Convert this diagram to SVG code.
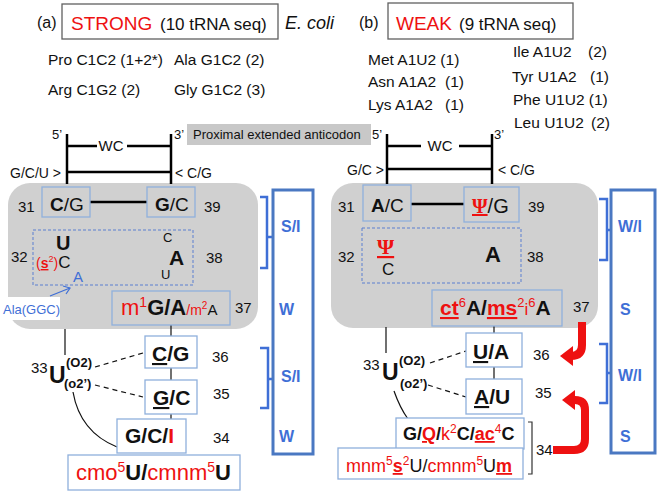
<svg xmlns="http://www.w3.org/2000/svg" width="661" height="494" viewBox="0 0 661 494">
<style>
text{font-family:"Liberation Sans",Arial,sans-serif;fill:#111}
.b{font-weight:bold}
.r{fill:#ee1111}
.bl{fill:#3f6fd6}
.u{text-decoration:underline}
.psi{font-family:"Liberation Serif","Times New Roman",serif;font-weight:bold;fill:#ee1111;text-decoration:underline}
.nb{fill:none;stroke:#8fb0dc;stroke-width:1.3}
.nw{fill:#fff;stroke:#8fb0dc;stroke-width:1.3}
.gray{fill:#d0d0d0}
.ln{stroke:#000;stroke-width:2.5;fill:none}
.thin{stroke:#111;stroke-width:1.2;fill:none}
.dash{stroke:#111;stroke-width:1.2;stroke-dasharray:5,4;fill:none}
.dbox{fill:none;stroke:#5b7fd0;stroke-width:1;stroke-dasharray:3,2}
.brk{fill:none;stroke:#3f6fd6;stroke-width:2.5}
.bbox{fill:none;stroke:#4a78c2;stroke-width:3}
.red{fill:none;stroke:#ee1111;stroke-width:8}
.num{font-size:15px}
</style>

<!-- titles -->
<g id="title-a">
<text x="37" y="28" font-size="16">(a)</text>
<rect x="62" y="4" width="216" height="35" fill="#fff" stroke="#606060" stroke-width="1.3"/>
<text x="71" y="30" font-size="19" class="r">STRONG</text>
<text x="160" y="30" font-size="17">(10 tRNA seq)</text>
<text x="285" y="29" font-size="18" font-style="italic">E. coli</text>
</g>
<g id="title-b">
<text x="359" y="28" font-size="16">(b)</text>
<rect x="388" y="3" width="185" height="36" fill="#fff" stroke="#606060" stroke-width="1.3"/>
<text x="396" y="30" font-size="19" class="r">WEAK</text>
<text x="459" y="30" font-size="17">(9 tRNA seq)</text>
</g>

<!-- lists -->
<g id="list-a" font-size="15.5">
<text x="48" y="65">Pro C1C2 (1+2*)</text>
<text x="174" y="65">Ala G1C2 (2)</text>
<text x="48" y="95">Arg C1G2 (2)</text>
<text x="174" y="95">Gly G1C2 (3)</text>
</g>
<g id="list-b" font-size="15.5">
<text x="368" y="65">Met A1U2 (1)</text>
<text x="368" y="87">Asn A1A2</text><text x="445" y="87">(1)</text>
<text x="368" y="110">Lys A1A2</text><text x="445" y="110">(1)</text>
<text x="513" y="57">Ile A1U2</text><text x="588" y="57">(2)</text>
<text x="512" y="82">Tyr U1A2</text><text x="590" y="82">(1)</text>
<text x="513" y="105">Phe U1U2 (1)</text>
<text x="514" y="128">Leu U1U2</text><text x="591" y="128">(2)</text>
</g>

<!-- ladders -->
<g id="ladder-a">
<text x="52" y="139" font-size="13">5’</text>
<text x="174" y="139" font-size="13">3’</text>
<text x="111" y="151" font-size="15" text-anchor="middle">WC</text>
<text x="10" y="178" font-size="14">G/C/U &gt;</text>
<text x="175" y="178" font-size="14">&lt; C/G</text>
</g>
<g id="proximal-label">
<rect x="187" y="124" width="184" height="21" fill="#c8c8c8"/>
<text x="193" y="139" font-size="13" fill="#333">Proximal extended anticodon</text>
</g>
<g id="ladder-b">
<text x="372" y="139" font-size="13">5’</text>
<text x="494" y="139" font-size="13">3’</text>
<text x="440" y="151" font-size="15" text-anchor="middle">WC</text>
<text x="347" y="175" font-size="14">G/C &gt;</text>
<text x="498" y="175" font-size="14">&lt; C/G</text>
</g>

<!-- gray loop areas -->
<g id="loop-a-bg"><rect x="8" y="183" width="250" height="146" rx="22" class="gray"/></g>
<g id="loop-b-bg"><rect x="331" y="183" width="267" height="145" rx="22" class="gray"/></g>

<!-- connectors -->
<g id="connectors">
<line x1="67" y1="134" x2="67" y2="184" class="ln"/>
<line x1="171" y1="134" x2="171" y2="184" class="ln"/>
<line x1="67" y1="146" x2="97" y2="146" class="ln"/>
<line x1="127" y1="146" x2="171" y2="146" class="ln"/>
<line x1="67" y1="172" x2="171" y2="172" class="ln"/>
<line x1="387" y1="134" x2="387" y2="184" class="ln"/>
<line x1="492" y1="134" x2="492" y2="184" class="ln"/>
<line x1="387" y1="146" x2="421" y2="146" class="ln"/>
<line x1="459" y1="146" x2="492" y2="146" class="ln"/>
<line x1="387" y1="169" x2="492" y2="169" class="ln"/>
<line x1="90" y1="202" x2="147" y2="202" class="ln"/>
<line x1="411" y1="204" x2="464" y2="204" class="ln"/>
<line x1="171" y1="325" x2="171" y2="336" class="thin"/>
<line x1="171" y1="368" x2="171" y2="380" class="thin"/>
<line x1="171" y1="414" x2="171" y2="419" class="thin"/>
<line x1="65" y1="329" x2="65" y2="355" class="thin"/>
<line x1="95" y1="367" x2="143" y2="353" class="dash"/>
<line x1="95" y1="385" x2="143" y2="397" class="dash"/>
<path d="M73,392 Q80,432 117,447" class="thin"/>
<line x1="494" y1="326" x2="494" y2="333" class="thin"/>
<line x1="494" y1="367" x2="494" y2="379" class="thin"/>
<line x1="386" y1="327" x2="386" y2="353" class="thin"/>
<line x1="430" y1="363" x2="466" y2="351" class="dash"/>
<line x1="428" y1="385" x2="466" y2="397" class="dash"/>
<path d="M394,391 Q400,408 408,419" class="thin"/>
<line x1="50" y1="296" x2="70" y2="288" stroke="#3f6fd6" stroke-width="1.2"/>
<path d="M63,286 L70,288 L66,294" fill="none" stroke="#3f6fd6" stroke-width="1.2"/>
<!-- blue brackets -->
<path d="M260,197 H267 V268 H260 M267,237 H273" class="brk"/>
<path d="M260,348 H268 V408 H260 M268,379 H273" class="brk"/>
<path d="M599,199 H607 V260 H599 M607,230 H611" class="brk"/>
<path d="M599,344 H607 V403 H599 M607,373 H611" class="brk"/>
<path d="M528,422 H532 V474 H528" fill="none" stroke="#333" stroke-width="1.2"/>
<!-- red arrows -->
<path d="M582,322 V345 Q582,356 571,356 H570" class="red"/>
<polygon points="560,356 573,346 573,366" fill="#ee1111"/>
<path d="M553,450 H574 Q585,450 585,439 V410 Q585,400 575,400 H574" class="red"/>
<polygon points="562,400 575,390 575,410" fill="#ee1111"/>
</g>

<!-- side boxes -->
<g id="side-a">
<rect x="273" y="190" width="40" height="264" class="bbox"/>
<text x="281" y="232" font-size="16" class="b bl">S/I</text>
<text x="279" y="315" font-size="16" class="b bl">W</text>
<text x="281" y="382" font-size="16" class="b bl">S/I</text>
<text x="279" y="442" font-size="16" class="b bl">W</text>
</g>
<g id="side-b">
<rect x="611" y="190" width="44" height="263" class="bbox"/>
<text x="618" y="232" font-size="16" class="b bl">W/I</text>
<text x="620" y="315" font-size="16" class="b bl">S</text>
<text x="618" y="381" font-size="16" class="b bl">W/I</text>
<text x="620" y="442" font-size="16" class="b bl">S</text>
</g>

<!-- (a) nodes -->
<g id="a31">
<rect x="42" y="187" width="48" height="30" class="nb"/>
<text x="50" y="211" font-size="19"><tspan class="b">C</tspan>/G</text>
<text x="18" y="212" class="num">31</text>
</g>
<g id="a39">
<rect x="147" y="187" width="48" height="30" class="nb"/>
<text x="155" y="211" font-size="19"><tspan class="b">G</tspan>/C</text>
<text x="204" y="212" class="num">39</text>
</g>
<g id="a32-38">
<rect x="33" y="230" width="160" height="55" class="dbox"/>
<text x="56" y="250" font-size="20" class="b">U</text>
<text x="11" y="262" class="num">32</text>
<text x="36" y="268" font-size="14"><tspan class="r">(</tspan><tspan class="r b u">s</tspan><tspan class="r" font-size="9" dy="-6">2</tspan><tspan class="r" dy="6">)</tspan><tspan font-size="17">C</tspan></text>
<text x="73" y="282" font-size="15" class="bl">A</text>
<text x="163" y="242" font-size="13">C</text>
<text x="169" y="265" font-size="21" class="b">A</text>
<text x="161" y="279" font-size="13">U</text>
<text x="206" y="263" class="num">38</text>
</g>
<g id="ala-label">
<rect x="0" y="297" width="60" height="23" fill="#fff"/>
<text x="3" y="314" font-size="13" class="bl">Ala(GGC)</text>
</g>
<g id="a37">
<rect x="112" y="291" width="118" height="34" class="nb"/>
<text x="121" y="315" font-size="22"><tspan class="r">m</tspan><tspan class="r" font-size="14" dy="-8">1</tspan><tspan class="b" dy="8">G/A</tspan><tspan class="r" font-size="14">/m</tspan><tspan class="r" font-size="10" dy="-6">2</tspan><tspan font-size="15" dy="6">A</tspan></text>
<text x="235" y="313" class="num">37</text>
</g>
<g id="a36">
<rect x="145" y="336" width="52" height="32" class="nw"/>
<text x="152" y="361" font-size="21" class="b"><tspan class="u">C</tspan>/G</text>
<text x="212" y="362" class="num">36</text>
</g>
<g id="a35">
<rect x="145" y="380" width="52" height="34" class="nw"/>
<text x="153" y="405" font-size="21" class="b"><tspan class="u">G</tspan>/C</text>
<text x="213" y="399" class="num">35</text>
</g>
<g id="a34">
<rect x="117" y="419" width="69" height="34" class="nw"/>
<text x="125" y="443" font-size="21" class="b">G/C/<tspan class="r">I</tspan></text>
<text x="213" y="443" class="num">34</text>
</g>
<g id="a34-mod">
<rect x="68" y="455" width="172" height="35" class="nw"/>
<text x="76" y="480" font-size="22"><tspan class="r">cmo</tspan><tspan class="r" font-size="14" dy="-8">5</tspan><tspan class="b" dy="8">U/</tspan><tspan class="r">cmnm</tspan><tspan class="r" font-size="14" dy="-8">5</tspan><tspan class="b" dy="8">U</tspan></text>
</g>
<g id="a33">
<text x="31" y="373" class="num">33</text>
<text x="49" y="383" font-size="23" class="b">U</text>
<text x="66" y="367" font-size="13" class="b">(O2)</text>
<text x="64" y="388" font-size="13" class="b">(o2’)</text>
</g>

<!-- (b) nodes -->
<g id="b31">
<rect x="363" y="185" width="48" height="36" class="nb"/>
<text x="371" y="212" font-size="19"><tspan class="b">A</tspan>/C</text>
<text x="338" y="212" class="num">31</text>
</g>
<g id="b39">
<rect x="464" y="187" width="55" height="35" class="nb"/>
<text x="472" y="213" font-size="20"><tspan class="psi">Ψ</tspan>/G</text>
<text x="528" y="212" class="num">39</text>
</g>
<g id="b32-38">
<rect x="362" y="228" width="159" height="55" class="dbox"/>
<text x="377" y="254" font-size="22" class="psi">Ψ</text>
<text x="382" y="275" font-size="17">C</text>
<text x="485" y="262" font-size="22" class="b">A</text>
<text x="338" y="262" class="num">32</text>
<text x="527" y="262" class="num">38</text>
</g>
<g id="b37">
<rect x="432" y="290" width="130" height="36" class="nb"/>
<text x="440" y="315" font-size="21" class="b"><tspan class="r u">ct</tspan><tspan class="r" font-size="13" font-weight="normal" dy="-8">6</tspan><tspan dy="8">A/</tspan><tspan class="r u">ms</tspan><tspan class="r" font-size="13" font-weight="normal" dy="-8">2</tspan><tspan class="r" font-size="17" font-weight="normal" dy="8">i</tspan><tspan class="r" font-size="13" font-weight="normal" dy="-8">6</tspan><tspan dy="8">A</tspan></text>
<text x="573" y="312" class="num">37</text>
</g>
<g id="b36">
<rect x="466" y="333" width="56" height="34" class="nw"/>
<text x="473" y="359" font-size="21" class="b"><tspan class="u">U</tspan>/A</text>
<text x="533" y="360" class="num">36</text>
</g>
<g id="b35">
<rect x="466" y="379" width="56" height="35" class="nw"/>
<text x="474" y="404" font-size="21" class="b"><tspan class="u">A</tspan>/U</text>
<text x="535" y="398" class="num">35</text>
</g>
<g id="b34">
<rect x="396" y="418" width="128" height="31" class="nw"/>
<text x="403" y="440" font-size="18" class="b">G/<tspan class="r u">Q</tspan>/<tspan class="r" font-weight="normal">k</tspan><tspan class="r" font-size="12" font-weight="normal" dy="-7">2</tspan><tspan dy="7">C/</tspan><tspan class="r u">ac</tspan><tspan class="r" font-size="12" font-weight="normal" dy="-7">4</tspan><tspan dy="7">C</tspan></text>
</g>
<g id="b34-mod">
<rect x="338" y="448" width="185" height="31" class="nw"/>
<text x="346" y="472" font-size="18"><tspan class="r">mnm</tspan><tspan class="r" font-size="12" dy="-7">5</tspan><tspan class="r b u" dy="7">s</tspan><tspan class="r" font-size="12" dy="-7">2</tspan><tspan dy="7">U/</tspan><tspan class="r">cmnm</tspan><tspan class="r" font-size="12" dy="-7">5</tspan><tspan dy="7">U</tspan><tspan class="r b u">m</tspan></text>
<text x="536" y="455" class="num">34</text>
</g>
<g id="b33">
<text x="363" y="370" class="num">33</text>
<text x="382" y="380" font-size="23" class="b">U</text>
<text x="399" y="365" font-size="13" class="b">(O2)</text>
<text x="400" y="388" font-size="13" class="b">(o2’)</text>
</g>
</svg>
